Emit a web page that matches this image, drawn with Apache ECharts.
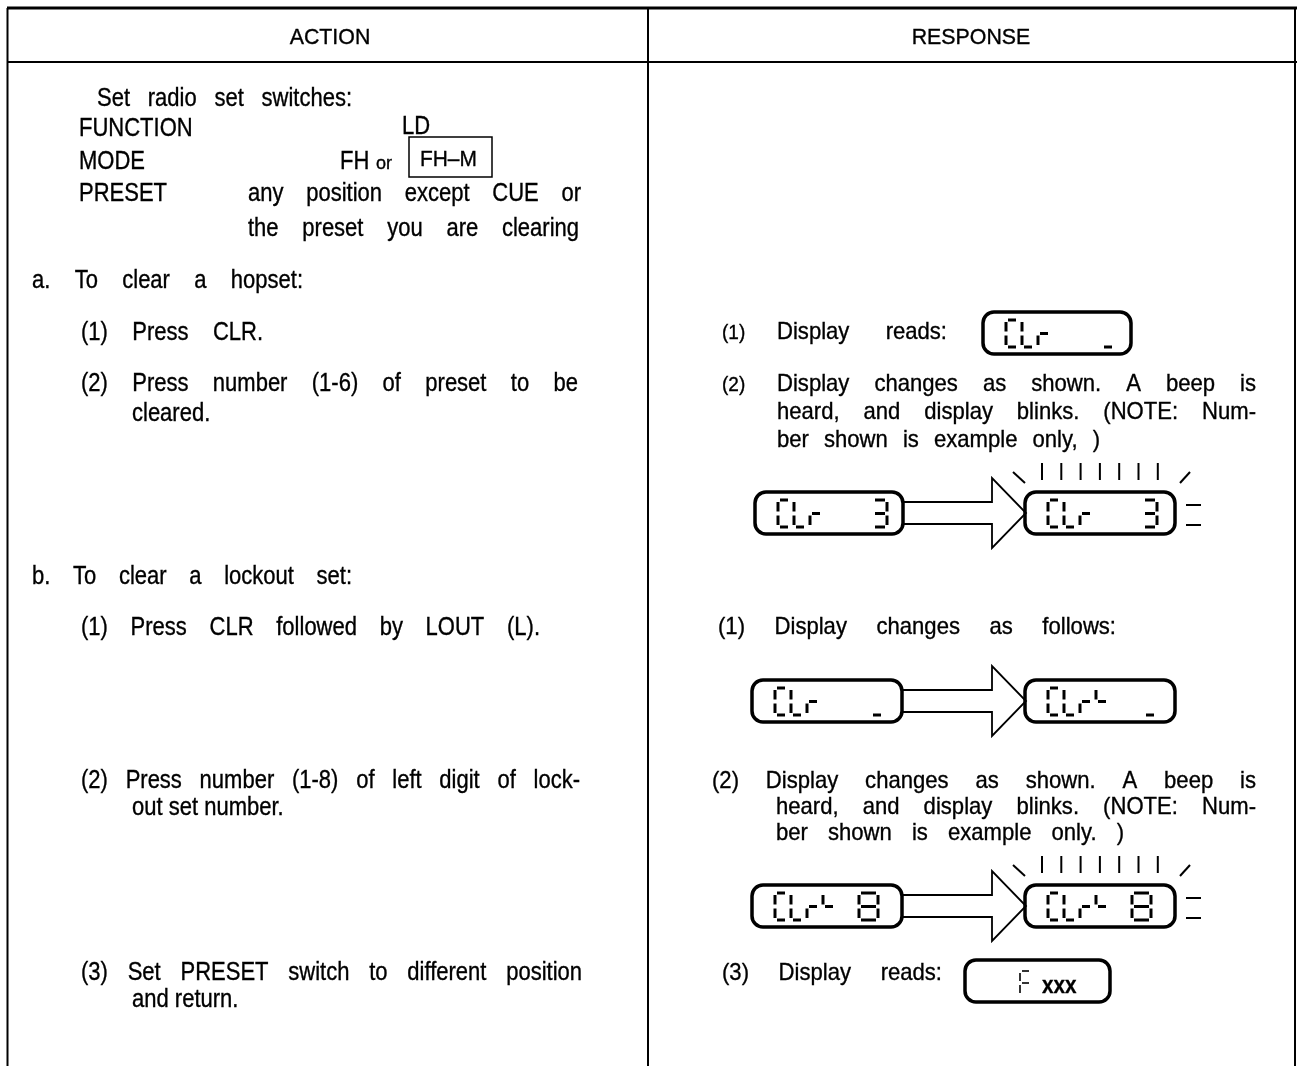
<!DOCTYPE html>
<html><head><meta charset="utf-8">
<script src="https://cdn.jsdelivr.net/npm/echarts@6/dist/echarts.min.js"></script>
<style>html,body{margin:0;padding:0;background:#fff}#c{width:1297px;height:1066px}</style>
</head><body><div id="c"></div>
<script>
// ---------- content (data) ----------
const headerLabels = ['ACTION', 'RESPONSE'];
const actionLines = [
  'Set radio set switches:', 'FUNCTION', 'LD', 'MODE', 'FH', 'or', 'PRESET',
  'any position except CUE or', 'the preset you are clearing',
  'a. To clear a hopset:', '(1) Press CLR.', '(2) Press number (1-6) of preset to be', 'cleared.',
  'b. To clear a lockout set:', '(1) Press CLR followed by LOUT (L).',
  '(2) Press number (1-8) of left digit of lock-', 'out set number.',
  '(3) Set PRESET switch to different position', 'and return.'
];
const modeBoxLabel = 'FH\u2013M';
const responseLines = [
  '(1)', 'Display reads:', '(2)', 'Display changes as shown. A beep is',
  'heard, and display blinks. (NOTE: Num-', 'ber shown is example only, )',
  '(1) Display changes as follows:',
  '(2) Display changes as shown. A beep is', 'heard, and display blinks. (NOTE: Num-',
  'ber shown is example only. )', '(3) Display reads:'
];
const displayReadings = ['CLr   _', 'CLr   3', 'CLr   3', 'CLr   _', 'CLr\u2514  _', 'CLr\u2514 8', 'CLr\u2514 8', 'Fxxx'];

// ---------- layout ----------
const FONT = '"Liberation Sans", Arial, sans-serif';
// [x0, x1(justify to) or null, yCenter, size, scaleX]
const L = [25, 0.88], R = [24, 0.92];
const actionPos = [
  [97, 352, 99], [79, null, 129], [402, null, 127], [79, null, 162], [340, null, 162], [376, null, 164, 19, 0.95], [79, null, 194],
  [248, 581, 194], [248, 579, 229],
  [32, 303, 281], [81, 263, 333], [81, 578, 384], [132, null, 414],
  [32, 352, 577], [81, 540, 628],
  [81, 580, 781], [132, null, 808],
  [81, 582, 973], [132, null, 1000]
];
const responsePos = [
  [722, null, 333, 20, 0.95], [777, 947, 332], [722, null, 385, 20, 0.95], [777, 1256, 384],
  [777, 1256, 412], [777, 1100, 440],
  [718, 1116, 627],
  [712, 1256, 781], [776, 1256, 807],
  [776, 1124, 833], [722, 942, 973]
];
const boxPos = [[983, 312, 148], [755, 492, 148], [1025, 492, 150], [752, 680, 150], [1025, 680, 150], [752, 885, 150], [1025, 885, 150], [965, 960, 145]];
const BOXH = 42;

const cv = document.createElement('canvas').getContext('2d');
function measure(t, size, weight) { cv.font = (weight || 'normal') + ' ' + size + 'px ' + FONT; return cv.measureText(t).width; }

const els = [];
function line(x1, y1, x2, y2, w) {
  els.push({ type: 'line', silent: true, shape: { x1, y1, x2, y2 }, style: { stroke: '#000', lineWidth: w || 2 } });
}
function word(t, x, y, size, sx, weight, align) {
  els.push({ type: 'text', silent: true, x, y, scaleX: sx, style: { text: t, font: (weight || 'normal') + ' ' + size + 'px ' + FONT, fill: '#000', stroke: '#000', lineWidth: 0.35, verticalAlign: 'middle', align: align || 'left' } });
}
function textLine(text, p, def) {
  const size = p[3] || def[0], sx = p[4] || def[1];
  const words = text.split(' ');
  const ws = words.map(w => measure(w, size) * sx);
  let gap = measure(' ', size) * sx;
  if (p[1] != null && words.length > 1) gap = (p[1] - p[0] - ws.reduce((a, b) => a + b, 0)) / (words.length - 1);
  let x = p[0];
  words.forEach((w, i) => { word(w, x, p[2], size, sx); x += ws[i] + gap; });
}

// table frame
line(7, 8, 1297, 8, 3);
line(7, 62, 1297, 62, 2);
line(7.5, 8, 7.5, 1066, 2);
line(648, 8, 648, 1066, 2);
line(1295, 8, 1295, 1066, 2);
[[330, 38], [971, 38]].forEach((c, i) => word(headerLabels[i], c[0], c[1], 22, 0.97, 'normal', 'center'));

actionLines.forEach((t, i) => textLine(t, actionPos[i], L));
responseLines.forEach((t, i) => textLine(t, responsePos[i], R));

// FH-M boxed label
els.push({ type: 'rect', silent: true, shape: { x: 409, y: 137, width: 83, height: 40 }, style: { fill: 'none', stroke: '#000', lineWidth: 1.5 } });
word(modeBoxLabel, 420, 160, 22, 0.95);

// seven-segment glyphs
const SEGS = { 'C': 'adef', 'L': 'def', 'r': 'eg', '3': 'abcdg', '8': 'abcdefg', '_': 'd', '\u2514': 'fg', 'F': 'aefg' };
function glyph(ch, x, y, w, h, lw) {
  const s = SEGS[ch]; if (!s) return;
  const m = y + h / 2, g = 2;
  const seg = {
    a: [x + g, y, x + w - g, y], b: [x + w, y + g, x + w, m - g], c: [x + w, m + g, x + w, y + h - g],
    d: [x + g, y + h, x + w - g, y + h], e: [x, m + g, x, y + h - g], f: [x, y + g, x, m - g], g: [x + g, m, x + w - g, m]
  };
  for (const k of s) { const q = seg[k]; line(q[0], q[1], q[2], q[3], lw); }
}
function display(str, b) {
  const [bx, by, bw] = b;
  els.push({ type: 'rect', silent: true, shape: { x: bx, y: by, width: bw, height: BOXH, r: 11 }, style: { fill: '#fff', stroke: '#000', lineWidth: 3.5 } });
  if (str === 'Fxxx') {
    glyph('F', bx + 55, by + 11, 11, 24, 1.6);
    word('xxx', bx + 77, by + 27, 23, 0.9, 'bold');
    return;
  }
  [...str].forEach((ch, i) => {
    if (ch === '8') glyph(ch, bx + 23 + i * 16 + 4, by + 8, 19, 27, 3);
    else if (ch === '3') glyph(ch, bx + 23 + i * 16 - 1, by + 8, 14, 27, 3);
    else glyph(ch, bx + 23 + i * 16, by + 8, 12, 27, 3);
  });
}
function arrow(l, r) {
  const cy = l[1] + BOXH / 2, x0 = l[0] + l[2], xb = r[0] - 33, xt = r[0] + 1;
  els.push({ type: 'polyline', silent: true, shape: { points: [[x0, cy - 11], [xb, cy - 11], [xb, cy - 35], [xt, cy], [xb, cy + 35], [xb, cy + 11], [x0, cy + 11]] }, style: { fill: 'none', stroke: '#000', lineWidth: 1.8 } });
}
function blink(b) {
  const [bx, by, bw] = b;
  line(bx - 12, by - 20, bx, by - 9, 2);
  for (let i = 0; i < 7; i++) line(bx + 17 + i * 19.3, by - 29, bx + 17 + i * 19.3, by - 12, 2);
  line(bx + bw + 15, by - 20, bx + bw + 5, by - 9, 2);
  line(bx + bw + 11, by + 13, bx + bw + 26, by + 13, 2);
  line(bx + bw + 11, by + 33, bx + bw + 26, by + 33, 2);
}

displayReadings.forEach((s, i) => display(s, boxPos[i]));
arrow(boxPos[1], boxPos[2]); arrow(boxPos[3], boxPos[4]); arrow(boxPos[5], boxPos[6]);
blink(boxPos[2]); blink(boxPos[6]);

const chart = echarts.init(document.getElementById('c'), null, { renderer: 'canvas' });
chart.setOption({ animation: false, backgroundColor: '#fff', graphic: { elements: els } });
</script></body></html>
